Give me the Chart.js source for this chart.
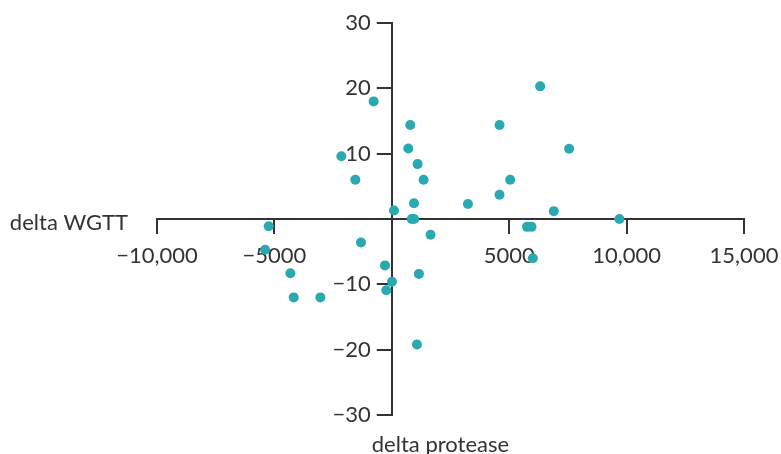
<!DOCTYPE html>
<html>
<head>
<meta charset="utf-8">
<script src="https://cdn.jsdelivr.net/npm/chart.js@4"></script>
<style>
  html, body { margin: 0; padding: 0; background: #fff; }
  #wrap { width: 781px; height: 454px; }
</style>
</head>
<body>
<div id="wrap"><canvas id="grafico"></canvas></div>
<script>
// dados
const deltaProtease = [-774, -2149, -1553, 94, -5242, 6319, 787, 4588, 702, 7553,
  1099, 1354, 5042, 4588, 945, 3242, 6900, 850, 950, 9693,
  5760, 5950, 1651, 6008, 1157, 1072, 8, -5397, -1312, -4319,
  -290, -234, -4178, -3042]
const deltaWGTT = [18.0, 9.6, 6.0, 1.3, -1.1, 20.3, 14.4, 14.4, 10.8, 10.75,
  8.4, 6.0, 6.0, 3.7, 2.4, 2.3, 1.2, 0, 0, 0,
  -1.2, -1.2, -2.4, -6.0, -8.4, -19.2, -9.6, -4.7, -3.6, -8.3,
  -7.1, -10.9, -12.0, -12.0]
const xTicks = [-10000, -5000, 0, 5000, 10000, 15000]
const yTicks = [-30, -20, -10, 0, 10, 20, 30]
const xTitle = 'delta WGTT'
const yTitle = 'delta protease'

const ink = '#333333'
const fonte = { family: 'Lato', size: 22 }

Chart.defaults.color = ink
Chart.defaults.font.family = 'Lato'
Chart.defaults.font.size = 22

function fmt(v) {
  if (v === 0) return ''
  const a = Math.abs(v)
  const s = a >= 10000 ? a.toLocaleString('en-US') : String(a)
  return (v < 0 ? '\u2212' : '') + s
}

// eixo y no x = 0 e títulos dos eixos
const eixos = {
  id: 'eixos',
  afterLayout(chart) {
    const y = chart.scales.y
    y.left = 0
    y.right = chart.scales.x.getPixelForValue(0)
  },
  afterDraw(chart) {
    const c = chart.ctx
    const x = chart.scales.x
    const y = chart.scales.y
    c.save()
    c.fillStyle = ink
    c.font = '22px Lato'
    c.textBaseline = 'alphabetic'
    c.textAlign = 'right'
    c.fillText(xTitle, x.left - 29, y.getPixelForValue(0) + 11)
    c.textAlign = 'left'
    c.fillText(yTitle, x.getPixelForValue(0) - 20, 452)
    c.restore()
  }
}

const data = {
  datasets: [{
    data: deltaProtease.map((v, i) => ({ x: v, y: deltaWGTT[i] })),
    backgroundColor: '#2aa9b1',
    borderWidth: 0,
    pointRadius: 5,
    pointHoverRadius: 5
  }]
}

const config = {
  type: 'scatter',
  data,
  options: {
    responsive: true,
    maintainAspectRatio: false,
    animation: false,
    layout: { padding: { left: 157, right: 37, top: 23, bottom: 39 } },
    plugins: { legend: { display: false }, tooltip: { enabled: false } },
    scales: {
      x: {
        min: -10000,
        max: 15000,
        position: { y: 0 },
        afterFit: (s) => { s.paddingLeft = 0; s.paddingRight = 0 },
        afterBuildTicks: (s) => { s.ticks = xTicks.map(v => ({ value: v })) },
        ticks: { callback: (v) => fmt(v), padding: 10, maxRotation: 0, autoSkip: false, font: fonte, color: ink },
        grid: { display: true, drawOnChartArea: false, drawTicks: true, tickLength: 14, color: ink, lineWidth: 2 },
        border: { display: true, color: ink, width: 2 }
      },
      y: {
        min: -30,
        max: 30,
        position: 'left',
        afterFit: (s) => { s.width = 0 },
        afterBuildTicks: (s) => { s.ticks = yTicks.map(v => ({ value: v })) },
        ticks: { callback: (v) => fmt(v), padding: 6, autoSkip: false, font: fonte, color: ink },
        grid: { display: true, drawOnChartArea: false, drawTicks: true, tickLength: 15, color: ink, lineWidth: 2 },
        border: { display: true, color: ink, width: 2 }
      }
    }
  },
  plugins: [eixos]
}

const graph = new Chart(document.getElementById('grafico'), config)
</script>
</body>
</html>
